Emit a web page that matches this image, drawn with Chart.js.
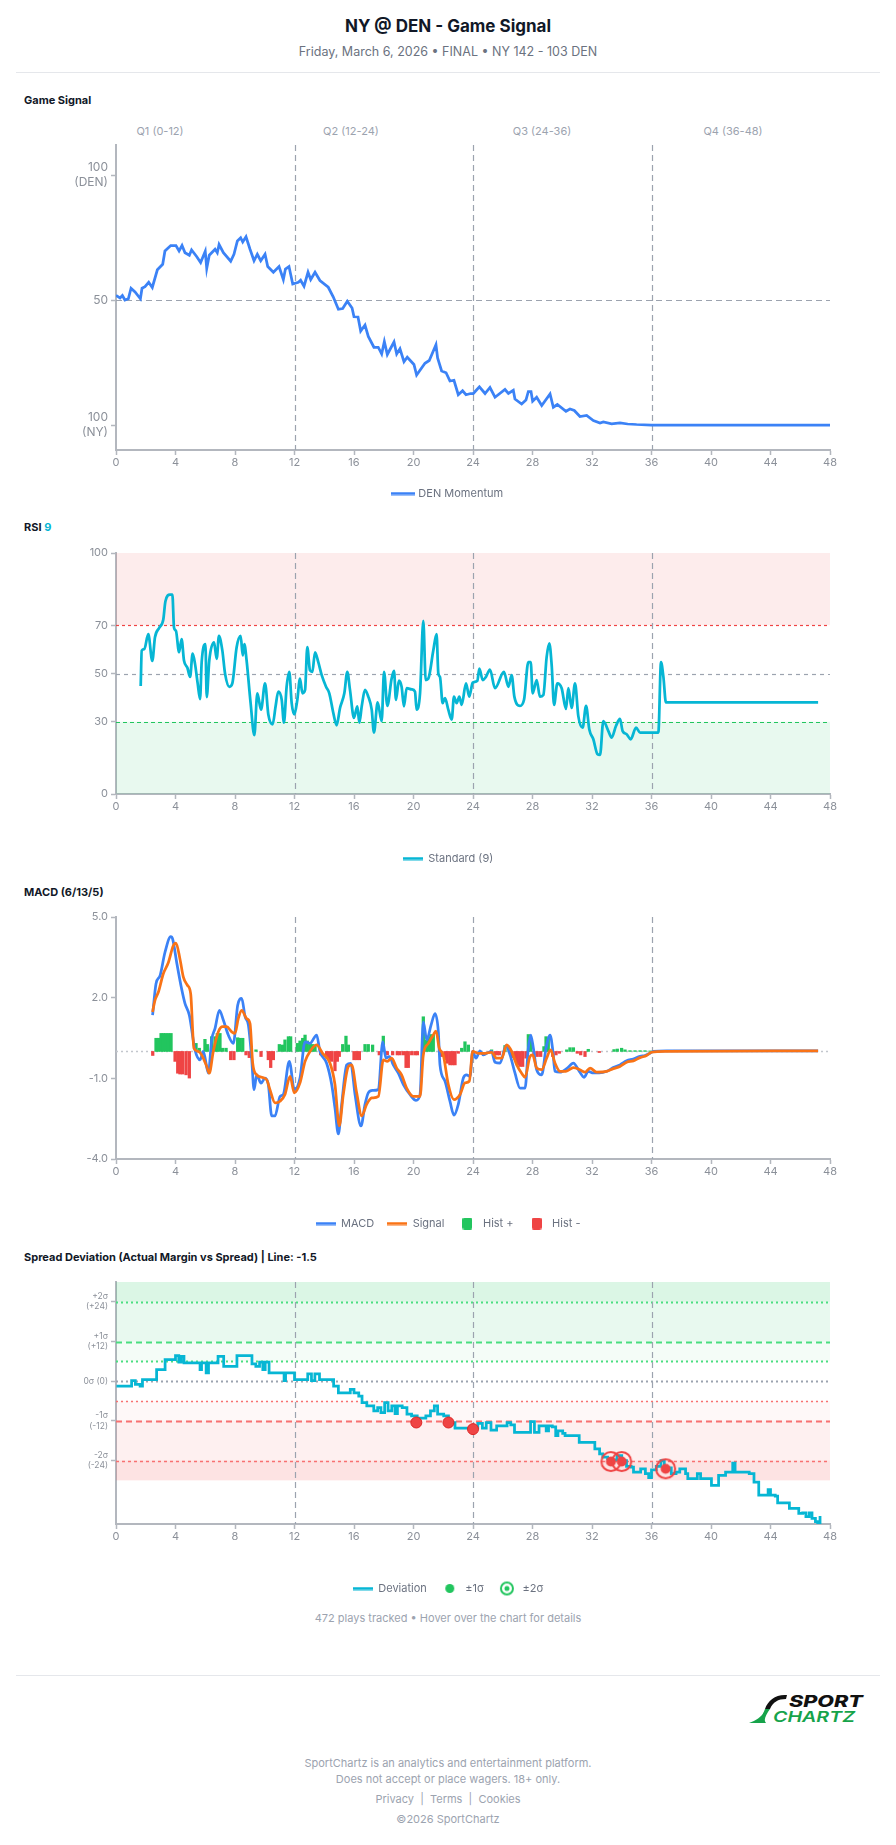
<!DOCTYPE html>
<html><head><meta charset="utf-8">
<script src="https://cdn.jsdelivr.net/npm/chart.js@4.4.1/dist/chart.umd.min.js"></script>
<style>
html,body{margin:0;padding:0;background:#fff;}
body{width:896px;height:1845px;position:relative;font-family:Inter,'Noto Sans',sans-serif;overflow:hidden;}
.abs{position:absolute;}
.title{left:0;width:896px;top:15px;text-align:center;font-size:17px;font-weight:700;color:#111827;line-height:22px;}
.sub{left:0;width:896px;top:44px;text-align:center;font-size:12.5px;color:#6b7280;line-height:16px;}
.hr{left:16px;width:864px;height:1px;background:#e5e7eb;}
.sec{left:24px;font-size:11px;font-weight:700;color:#111827;line-height:14px;white-space:nowrap;}
.q{top:124px;font-size:11px;color:#9ca3af;line-height:14px;transform:translateX(-50%);white-space:nowrap;}
.foot{left:0;width:896px;text-align:center;font-size:11px;color:#9ca3af;line-height:14px;}
.box{left:16px;width:864px;}
</style></head>
<body>
<div class="abs title">NY @ DEN - Game Signal</div>
<div class="abs sub">Friday, March 6, 2026 • FINAL • NY 142 - 103 DEN</div>
<div class="abs hr" style="top:72px"></div>

<div class="abs sec" style="top:93px">Game Signal</div>
<div class="abs q" style="left:160px">Q1 (0-12)</div>
<div class="abs q" style="left:351px">Q2 (12-24)</div>
<div class="abs q" style="left:542px">Q3 (24-36)</div>
<div class="abs q" style="left:733px">Q4 (36-48)</div>
<div class="abs box" id="b1"><canvas id="c1"></canvas></div>

<div class="abs sec" style="top:520px">RSI <span style="color:#06b6d4">9</span></div>
<div class="abs box" id="b2"><canvas id="c2"></canvas></div>

<div class="abs sec" style="top:885px">MACD (6/13/5)</div>
<div class="abs box" id="b3"><canvas id="c3"></canvas></div>

<div class="abs sec" style="top:1250px">Spread Deviation (Actual Margin vs Spread) | Line: -1.5</div>
<div class="abs box" id="b4"><canvas id="c4"></canvas></div>

<div class="abs foot" style="top:1611px">472 plays tracked • Hover over the chart for details</div>
<div class="abs hr" style="top:1675px"></div>

<svg class="abs" style="left:745px;top:1690px" width="130" height="38" viewBox="0 0 130 38">
  <path d="M42 5 C 31 4, 23 10, 20 19 L 25 19 C 28 12, 33 9, 41 9 Z" fill="#111"/>
  <path d="M20 19 C 18 26, 12 30, 4 33 L 21 33 C 18 30, 21 25, 25 19 Z" fill="#16a34a"/>
  <text x="44" y="17" font-family="Inter" font-weight="800" font-style="italic" font-size="16" fill="#111" textLength="74" lengthAdjust="spacingAndGlyphs">SPORT</text>
  <text x="28" y="32" font-family="Inter" font-weight="600" font-style="italic" font-size="15" fill="#16a34a" textLength="82" lengthAdjust="spacingAndGlyphs">CHARTZ</text>
</svg>

<div class="abs foot" style="top:1756px">SportChartz is an analytics and entertainment platform.</div>
<div class="abs foot" style="top:1772px">Does not accept or place wagers. 18+ only.</div>
<div class="abs foot" style="top:1792px">Privacy&nbsp; |&nbsp; Terms&nbsp; |&nbsp; Cookies</div>
<div class="abs foot" style="top:1812px">©2026 SportChartz</div>

<script>
// ---------------- DATA (game minute, value) ----------------
const xTickStep = 4;
const quarterLines = [12, 24, 36];

const momentum = [[0,51.8],[0.27,50.8],[0.43,51.8],[0.6,50],[0.83,50.5],[1.01,54.7],[1.28,53.2],[1.64,50.5],[1.75,54.7],[1.95,55.3],[2.2,57.1],[2.44,55],[2.78,62.1],[3.14,64.3],[3.29,69.6],[3.68,71.8],[4.03,71.8],[4.24,69.6],[4.44,71.8],[4.64,68.9],[4.93,67.9],[5.08,70],[5.42,67.4],[5.69,65],[6.0,69.5],[6.1,62.6],[6.27,67.9],[6.66,70.3],[6.81,68.9],[6.93,72.2],[7.22,68.9],[7.71,65.5],[7.93,68.3],[8.16,73.6],[8.38,74.9],[8.52,73.2],[8.74,75.3],[9.01,70.3],[9.28,65.7],[9.5,68.3],[9.73,65.7],[10.02,68.3],[10.2,63.4],[10.58,61.1],[10.96,63.4],[11.25,58.2],[11.39,62.4],[11.63,63.4],[11.88,56.4],[12.26,57.1],[12.41,57.9],[12.64,55.5],[12.91,61.1],[13.09,58.2],[13.38,61.1],[13.71,57.8],[14.27,55.1],[14.61,51.2],[14.95,46.3],[15.24,46.6],[15.55,49.5],[15.87,46.8],[16.0,43.3],[16.27,43.2],[16.45,37.6],[16.74,40],[16.96,35.4],[17.34,31.1],[17.63,31.1],[17.86,28.4],[18.04,33.4],[18.24,28.2],[18.69,33.2],[18.87,28.4],[19.09,30.5],[19.36,25.3],[19.58,27.1],[20.03,24.2],[20.21,20],[20.77,24.7],[21.06,25.8],[21.51,32.1],[21.62,26.8],[21.89,21.6],[22.19,20.9],[22.45,17.6],[22.72,17.9],[23.01,12.1],[23.3,13.7],[23.53,12.1],[23.84,12.6],[24.02,12.6],[24.43,15.3],[24.81,12.6],[25.14,15],[25.48,11.1],[26.15,14.2],[26.38,12.6],[26.71,13.9],[26.82,10.4],[27.27,8.4],[27.56,10],[27.72,13.4],[27.9,13.4],[28.01,9.5],[28.28,11.1],[28.62,7.8],[29.18,12.4],[29.4,7.1],[29.67,8.2],[30.25,5.5],[30.52,6.4],[30.81,5.8],[31.19,3.4],[31.64,3.8],[32.09,1.8],[32.54,0.8],[32.76,1.2],[33.32,0.5],[33.88,0.8],[34.4,0.4],[35.0,0.2],[36.0,0],[48.0,0]];

const rsi = [[1.66,44.8],[1.73,59.5],[1.9,60.1],[2.17,66.3],[2.44,55.2],[2.62,65],[2.91,69],[3.18,72.4],[3.32,79.9],[3.63,82.7],[3.79,82.7],[3.9,69],[4.03,67.7],[4.24,58.8],[4.41,64.3],[4.57,55.4],[4.8,52.4],[4.98,48.6],[5.15,58.2],[5.31,54.1],[5.49,45.9],[5.65,39.4],[5.76,54.7],[6.01,62.2],[6.1,40.2],[6.27,55.4],[6.59,62.9],[6.77,56.1],[6.92,65.6],[7.15,59.5],[7.33,50],[7.62,44.5],[7.82,45.9],[8.11,60.9],[8.38,65.6],[8.52,57.5],[8.63,62.2],[8.78,55.4],[9.05,37.7],[9.3,24.4],[9.5,41.8],[9.75,35],[10.02,45.9],[10.24,33],[10.53,28.9],[10.73,36.4],[10.91,42.5],[11.14,39.1],[11.29,29.6],[11.47,44.5],[11.65,50.7],[11.81,37.7],[11.99,33],[12.19,39.1],[12.37,47.9],[12.53,41.8],[12.71,43.2],[12.86,60.9],[13.04,51.3],[13.2,50.7],[13.38,58.8],[13.6,54.7],[13.83,49.3],[14.12,44.5],[14.34,41.8],[14.61,33.6],[14.83,28.5],[15.06,35.7],[15.35,41.8],[15.55,50.7],[15.73,43.2],[16.0,31.6],[16.22,36.4],[16.36,29.6],[16.52,36.4],[16.74,43.2],[16.96,40.4],[17.19,35],[17.34,25.5],[17.59,38],[17.86,30.2],[18.02,50.7],[18.24,36.6],[18.53,47.9],[18.69,51.1],[18.82,39.1],[19.02,47],[19.2,44.5],[19.36,36.4],[19.54,43.9],[19.88,43.4],[20.1,42.5],[20.21,35],[20.44,41.8],[20.66,71.8],[20.82,47.3],[21.0,47.9],[21.33,59.5],[21.55,66.3],[21.67,50],[21.78,48.6],[21.96,37.7],[22.12,39.8],[22.34,35],[22.57,30.9],[22.72,40.4],[22.9,37.7],[23.08,40.4],[23.24,37],[23.53,45.9],[23.75,40.4],[23.98,46.2],[24.29,47],[24.43,52],[24.65,47.3],[24.87,48.6],[25.14,51.6],[25.48,43.9],[26.08,50.7],[26.38,44.5],[26.6,49.3],[26.78,40.4],[27.16,36.6],[27.43,39.1],[27.72,54.7],[27.88,54.7],[28.01,41.8],[28.28,47.3],[28.5,40.4],[28.73,41.1],[28.95,56.8],[29.13,62.5],[29.29,53.4],[29.45,37],[29.67,45.9],[29.96,43.9],[30.25,35.3],[30.41,43.9],[30.63,35.7],[30.86,45.9],[31.08,32.3],[31.37,27.5],[31.6,36.6],[31.82,26.8],[32.09,22.7],[32.36,16.6],[32.54,16.2],[32.76,30.2],[33.1,26.1],[33.32,23.4],[33.61,28.2],[33.88,31.2],[34.06,26.1],[34.33,24.8],[34.6,22.7],[34.96,27.5],[35.23,25.5],[36.46,25.5],[36.64,54.7],[36.8,48.6],[36.97,38],[47.2,38]];

const macd = [[2.46,1.35],[2.69,2.52],[2.96,2.82],[3.29,3.68],[3.68,4.27],[3.81,4.18],[4.08,3.31],[4.41,2.33],[4.64,1.78],[4.93,1.35],[5.31,0.06],[5.65,-0.31],[5.87,0],[6.21,-0.81],[6.43,0.43],[6.66,0.86],[6.95,1.53],[7.22,1.16],[7.55,0.61],[7.89,0.3],[8.18,1.72],[8.45,1.97],[8.68,1.29],[8.9,0.98],[9.12,-0.25],[9.28,-1.42],[9.46,-0.87],[9.75,-1.18],[10.02,-0.99],[10.24,-1.23],[10.47,-2.4],[10.69,-2.4],[11.03,-1.67],[11.25,-1.6],[11.65,-0.37],[11.99,-1.42],[12.37,-0.99],[12.71,0.36],[13.04,0.3],[13.49,0.61],[13.71,0],[14.16,-0.44],[14.5,-1.23],[14.72,-2.1],[14.95,-3.07],[15.17,-1.97],[15.51,-0.5],[15.78,-0.44],[16.07,-1.6],[16.47,-2.77],[16.74,-1.97],[16.96,-1.54],[17.25,-1.45],[17.64,-1.42],[17.93,0.36],[18.15,-0.25],[18.38,-0.19],[18.64,-0.5],[18.98,-0.81],[19.32,-1.23],[19.76,-1.6],[20.17,-1.82],[20.44,-1.6],[20.66,1.1],[20.89,0.43],[21.18,0.98],[21.45,1.41],[21.67,0.73],[21.78,-0.5],[22.12,-1.11],[22.45,-1.85],[22.72,-2.37],[23.01,-1.97],[23.35,-0.99],[23.57,-0.87],[23.8,-0.93],[23.98,0],[24.2,-0.25],[24.47,0.02],[24.69,-0.13],[24.92,-0.07],[25.25,0],[25.48,-0.4],[25.82,-0.43],[26.22,0.22],[26.49,-0.13],[26.82,-0.8],[27.16,-1.36],[27.5,-1.36],[27.72,0.12],[27.88,0.61],[28.06,0.12],[28.28,-0.68],[28.62,-0.87],[28.91,0.12],[29.18,0.61],[29.36,0.06],[29.51,-0.74],[29.85,-0.77],[30.34,-0.62],[30.75,-0.43],[31.15,-0.74],[31.46,-0.96],[31.75,-0.74],[32.09,-0.8],[32.49,-0.8],[32.99,-0.74],[33.43,-0.6],[33.88,-0.5],[34.33,-0.35],[34.78,-0.28],[35.23,-0.18],[35.56,-0.15],[35.9,-0.07],[36.12,0],[37.02,0.02],[47.2,0.02]];

const signal = [[2.46,1.47],[2.62,1.9],[2.85,2.21],[3.18,2.89],[3.52,3.31],[3.85,3.93],[4.03,4.03],[4.3,3.44],[4.53,2.76],[4.8,2.46],[5.02,2.15],[5.24,0.12],[5.53,0],[5.76,-0.13],[6.1,-0.56],[6.27,-0.81],[6.54,0],[6.88,0.73],[7.17,0.92],[7.44,0.92],[7.78,0.73],[8.0,0.67],[8.22,1.22],[8.45,1.53],[8.78,1.22],[9.01,1.04],[9.19,-0.44],[9.46,-0.87],[9.79,-0.96],[10.13,-1.05],[10.35,-1.42],[10.69,-1.91],[11.03,-1.85],[11.36,-1.6],[11.7,-0.93],[11.99,-1.54],[12.37,-1.17],[12.71,-0.37],[13.04,0],[13.49,0.24],[13.89,-0.07],[14.39,-0.44],[14.72,-1.23],[15.01,-2.77],[15.28,-1.6],[15.62,-0.56],[15.84,-0.5],[16.18,-1.54],[16.52,-2.4],[16.85,-1.97],[17.19,-1.73],[17.64,-1.67],[17.97,-0.31],[18.24,-0.37],[18.53,-0.25],[18.87,-0.62],[19.2,-0.87],[19.54,-1.36],[19.99,-1.67],[20.44,-1.67],[20.66,-0.13],[21.0,0.3],[21.33,0.61],[21.51,0.76],[21.73,0.12],[22.0,-0.13],[22.34,-1.23],[22.72,-1.79],[23.13,-1.6],[23.46,-1.17],[23.75,-1.11],[23.98,0],[24.36,-0.07],[24.81,-0.07],[25.25,-0.03],[25.59,-0.25],[25.93,-0.25],[26.26,0.24],[26.6,0],[26.94,-0.5],[27.27,-0.81],[27.5,-0.96],[27.83,-0.19],[28.01,-0.13],[28.28,-0.62],[28.62,-0.68],[28.95,-0.25],[29.22,0.06],[29.51,-0.43],[29.85,-0.74],[30.25,-0.74],[30.75,-0.6],[31.19,-0.68],[31.53,-0.77],[31.87,-0.62],[32.31,-0.77],[32.99,-0.74],[33.43,-0.64],[33.88,-0.56],[34.33,-0.4],[34.78,-0.35],[35.23,-0.23],[35.67,-0.15],[36.01,-0.03],[37.02,0],[47.2,0.02]];

const histogram = [[2.47,-0.15],[2.69,0.49],[2.85,0.49],[3.03,0.67],[3.18,0.67],[3.34,0.67],[3.52,0.67],[3.7,0.67],[3.97,-0.37],[4.15,-0.81],[4.3,-0.84],[4.48,-0.84],[4.71,-0.87],[4.93,-0.99],[5.38,0.3],[5.6,0.12],[5.98,0.45],[6.14,0.26],[6.43,0.55],[6.66,0.55],[6.81,0.67],[6.99,0.67],[7.17,0.12],[7.4,0.12],[7.71,-0.31],[7.93,-0.31],[8.18,0.51],[8.34,0.49],[8.52,0.49],[8.74,-0.13],[8.96,-0.23],[9.41,0.06],[9.75,-0.19],[10.24,-0.31],[10.4,-0.6],[10.58,-0.31],[10.98,0.26],[11.2,0.24],[11.36,0.43],[11.59,0.55],[11.74,0.55],[12.19,0.3],[12.37,0.39],[12.55,0.49],[12.71,0.61],[12.86,0.39],[13.04,0.3],[13.22,0.26],[13.38,0.24],[13.76,-0.13],[14.16,-0.25],[14.34,-0.31],[14.5,-0.37],[14.72,-0.72],[14.88,-0.37],[15.01,-0.19],[15.24,0.26],[15.46,0.57],[15.62,0.24],[16.0,-0.31],[16.18,-0.31],[16.36,-0.31],[16.74,0.26],[16.96,0.26],[17.25,0.24],[17.7,-0.13],[17.97,0.57],[18.24,-0.13],[18.6,-0.13],[18.91,-0.13],[19.09,-0.13],[19.32,-0.13],[19.5,-0.6],[19.65,-0.6],[19.88,-0.13],[20.1,-0.13],[20.26,-0.13],[20.66,1.29],[20.84,0.43],[21.0,0.55],[21.18,0.63],[21.33,0.61],[21.89,-0.19],[22.12,-0.31],[22.27,-0.44],[22.45,-0.5],[22.63,-0.5],[22.79,-0.5],[23.01,-0.07],[23.24,0.12],[23.46,0.36],[23.69,0.24],[25.25,0.06],[25.48,-0.13],[25.64,-0.13],[25.77,-0.13],[26.15,0.22],[26.6,-0.23],[26.82,-0.31],[26.98,-0.5],[27.16,-0.56],[27.34,-0.56],[27.56,-0.25],[27.72,0.63],[27.88,0.49],[28.1,-0.13],[28.32,-0.19],[28.55,-0.19],[28.77,0.18],[28.91,0.55],[29.06,0.49],[29.36,-0.19],[29.58,-0.13],[29.8,-0.07],[30.3,0.06],[30.52,0.14],[30.75,0.14],[31.01,-0.07],[31.24,-0.13],[31.53,-0.19],[31.75,0.08],[32.49,-0.04],[33.48,0.07],[33.7,0.09],[33.99,0.12],[34.22,0.06],[34.55,0.03],[34.89,0.03],[35.23,0.03],[35.56,0.03],[35.9,0.02]];

const deviation = [[0.03,-1.5],[0.83,-1.5],[1.05,0.2],[1.3,-1],[1.62,-1.5],[1.78,0.5],[2.57,0.5],[2.73,3.5],[3.21,3.5],[3.3,6.5],[3.84,6.5],[4.0,7.7],[4.22,5.8],[4.38,7.5],[4.57,5.5],[5.43,5.5],[5.65,3.5],[5.75,5.5],[6.06,2.5],[6.22,5.5],[6.7,5.5],[6.86,7.5],[7.24,4.5],[7.97,4.5],[8.13,7.7],[8.92,7.7],[9.14,5.2],[9.4,4.5],[9.65,5.8],[9.87,3.5],[10.03,5.8],[10.29,2.5],[11.14,2.5],[11.3,0.2],[11.4,2.5],[11.78,2.5],[12.0,0.5],[12.73,0.5],[12.89,2.2],[13.14,0.2],[13.37,2.2],[13.68,0.5],[14.41,0.5],[14.63,-1.5],[14.95,-3.5],[15.75,-2.5],[16.0,-3.5],[16.32,-4.5],[16.54,-6.5],[16.86,-7.5],[17.27,-7.5],[17.33,-9],[17.59,-8],[17.81,-9.5],[18.06,-6.5],[18.29,-9],[18.54,-7.5],[18.76,-9.8],[18.92,-7.5],[19.24,-8],[19.56,-10],[19.87,-10.5],[20.25,-11.2],[20.83,-10.5],[21.14,-9],[21.4,-7.5],[21.62,-10],[22.03,-10.5],[22.35,-12.5],[22.79,-14.2],[24.0,-14.2],[24.32,-12.8],[24.63,-14.2],[24.89,-12.5],[25.21,-14.8],[25.59,-13.5],[25.9,-13.5],[26.29,-12.5],[26.54,-13.2],[26.79,-15.5],[27.65,-15.5],[27.87,-12.2],[28.13,-15.5],[28.44,-13.5],[28.92,-15],[29.08,-13.5],[29.33,-13.8],[29.56,-16.5],[29.71,-15],[30.03,-15.8],[30.19,-16.5],[30.98,-16.5],[31.14,-18.5],[31.94,-18.5],[32.19,-20.5],[32.51,-22],[32.73,-23],[33.05,-23.5],[33.37,-23.8],[33.68,-22.5],[34.0,-24],[34.32,-25.8],[34.63,-26],[34.79,-27.5],[35.27,-26.5],[35.59,-28],[35.81,-29.2],[36.0,-26.8],[36.32,-25.8],[36.63,-24],[36.86,-26.2],[37.33,-28],[37.65,-27.5],[37.9,-26.5],[38.29,-28],[38.44,-29.5],[38.92,-29.5],[39.08,-28],[39.3,-29.5],[39.87,-29.5],[40.03,-31.5],[40.35,-31.5],[40.51,-28.5],[40.98,-27.5],[41.3,-27.5],[41.46,-24.8],[41.62,-27.5],[42.57,-28],[42.89,-30.5],[43.21,-34.5],[43.68,-34.5],[43.84,-32.8],[44.0,-34.5],[44.32,-34.8],[44.48,-36.8],[45.11,-36.8],[45.27,-38.5],[45.75,-38.5],[45.9,-40],[46.16,-39.8],[46.38,-41],[46.6,-39.8],[46.79,-41.5],[47.02,-42.5],[47.17,-43.2],[47.33,-40.8]];

const sigma1Hits = [[20.19,-12.5],[22.35,-12.5],[24.0,-14.5]];
const sigma2Hits = [[33.27,-24.3],[34.0,-24.3],[36.95,-26.5]];

const momTicks = [0, 50, 100];
const rsiTicks = [0, 30, 50, 70, 100];
const macdTicks = [-4, -1, 2, 5];
const devTicks = [-24, -12, 0, 12, 24];
const devTickLabels = {'24':['+2σ','(+24)'], '12':['+1σ','(+12)'], '0':'0σ (0)', '-12':['-1σ','(-12)'], '-24':['-2σ','(-24)']};

// ---------------- STYLE ----------------
const TICK = '#8b9099', AXIS = '#b3b7be', QLINE = '#9ca3af';
const BLUE = '#3b82f6', CYAN = '#06b6d4', ORANGE = '#f97316', GREEN = '#22c55e', RED = '#ef4444';
Chart.defaults.font.family = "Inter, 'Noto Sans', sans-serif";
Chart.defaults.animation = false;

const pts = arr => arr.map(p => ({x: p[0], y: p[1]}));

function mk(w, h, draw) { const c = document.createElement('canvas'); c.width = w; c.height = h; draw(c.getContext('2d')); return c; }
const lineIcon = (color, w) => mk(w, 4, g => { g.fillStyle = color; g.fillRect(0, 0.5, w, 3); });
const rectIcon = color => mk(10, 12, g => { g.fillStyle = color; g.beginPath(); g.roundRect(0, 0, 10, 12, 2); g.fill(); });
const dotIcon = (color, r) => mk(2*r+2, 2*r+2, g => { g.fillStyle = color; g.beginPath(); g.arc(r+1, r+1, r, 0, Math.PI*2); g.fill(); });
const ringIcon = (color, r, rin, lw) => mk(2*r+4, 2*r+4, g => {
  const c = r + 2; g.strokeStyle = color; g.lineWidth = lw; g.beginPath(); g.arc(c, c, r, 0, Math.PI*2); g.stroke();
  g.fillStyle = color; g.beginPath(); g.arc(c, c, rin, 0, Math.PI*2); g.fill();
});

const refPlugin = {
  id: 'refs',
  beforeDatasetsDraw(chart, args, o) {
    const {ctx, chartArea: a, scales: {x, y}} = chart;
    ctx.save();
    ctx.beginPath(); ctx.rect(a.left, a.top, a.right - a.left, a.bottom - a.top); ctx.clip();
    (o.bands || []).forEach(b => {
      const y1 = y.getPixelForValue(b.from), y2 = y.getPixelForValue(b.to);
      ctx.fillStyle = b.color;
      ctx.fillRect(a.left, Math.min(y1, y2), a.right - a.left, Math.abs(y2 - y1));
    });
    ctx.restore();
    ctx.save();
    (o.hlines || []).forEach(l => {
      const py = Math.round(y.getPixelForValue(l.value)) + 0.5;
      ctx.strokeStyle = l.color; ctx.lineWidth = l.width || 1; ctx.setLineDash(l.dash || []);
      ctx.beginPath(); ctx.moveTo(a.left, py); ctx.lineTo(a.right, py); ctx.stroke();
    });
    (o.vlines || []).forEach(v => {
      const px = Math.round(x.getPixelForValue(v)) + 0.5;
      ctx.strokeStyle = QLINE; ctx.lineWidth = 1.2; ctx.setLineDash([6, 4]);
      ctx.beginPath(); ctx.moveTo(px, a.top); ctx.lineTo(px, a.bottom); ctx.stroke();
    });
    ctx.restore();
  }
};

function xAxis(Hx) {
  return {
    type: 'linear', min: 0, max: 48, offset: false,
    ticks: {stepSize: xTickStep, color: TICK, font: {size: 11}, padding: 1, maxRotation: 0, autoSkip: false},
    grid: {display: true, offset: false, drawOnChartArea: false, drawTicks: true, tickLength: 5, tickColor: AXIS, tickWidth: 1.5},
    border: {display: true, color: AXIS, width: 2},
    afterFit(s) { s.height = Hx; s.paddingLeft = 0; s.paddingRight = 0; }
  };
}
function yAxis(min, max, vals, fmt, size) {
  return {
    type: 'linear', min, max,
    afterBuildTicks(s) { s.ticks = vals.map(v => ({value: v})); },
    ticks: {callback: fmt, color: TICK, font: {size: size}, padding: 3, autoSkip: false},
    grid: {display: true, drawOnChartArea: false, drawTicks: true, tickLength: 5, tickColor: AXIS, tickWidth: 1.5},
    border: {display: true, color: AXIS, width: 2},
    afterFit(s) { s.width = 50; s.paddingTop = 0; s.paddingBottom = 0; }
  };
}
function legend(items) {
  return {
    display: true, position: 'bottom', align: 'center',
    labels: {
      usePointStyle: true, pointStyleWidth: 20, boxHeight: 11, padding: 13,
      color: '#6b7280', font: {size: 11},
      generateLabels: () => items.map(it => ({
        text: it.text, pointStyle: it.icon, fillStyle: 'rgba(0,0,0,0)', strokeStyle: 'rgba(0,0,0,0)',
        lineWidth: 0, hidden: false, datasetIndex: it.ds, fontColor: '#6b7280'
      }))
    }
  };
}
function place(boxId, ct, cb, ly) {
  const PT = 15, PB = 4, LH = 31;
  const Hx = Math.round(ly - 15.5 - cb);
  const top = ct - PT;
  const h = PT + (cb - ct) + Hx + LH + PB;
  const b = document.getElementById(boxId);
  b.style.top = top + 'px'; b.style.height = h + 'px';
  return {Hx, padding: {top: PT, right: 50, bottom: PB, left: 50}};
}
function base(L, xs, ys, leg, refs) {
  return {
    responsive: true, maintainAspectRatio: false, devicePixelRatio: 1,
    layout: {padding: L.padding},
    scales: {x: xs, y: ys},
    plugins: {legend: leg, tooltip: {enabled: false}, refs: refs},
    events: []
  };
}

// ---------------- Chart 1: Game Signal ----------------
const L1 = place('b1', 145, 453, 493);
new Chart(document.getElementById('c1'), {
  type: 'line',
  data: {datasets: [{label: 'DEN Momentum', data: pts(momentum), borderColor: BLUE, borderWidth: 2.75, pointRadius: 0, tension: 0, fill: false}]},
  options: base(L1, xAxis(L1.Hx),
    yAxis(-10, 112, momTicks, v => v === 100 ? ['100', '(DEN)'] : v === 0 ? ['100', '(NY)'] : String(v), 12),
    legend([{text: 'DEN Momentum', icon: lineIcon(BLUE, 24), ds: 0}]),
    {hlines: [{value: 50, color: QLINE, dash: [6, 4], width: 1.2}], vlines: quarterLines}),
  plugins: [refPlugin]
});

// ---------------- Chart 2: RSI ----------------
const L2 = place('b2', 553, 797, 858);
new Chart(document.getElementById('c2'), {
  type: 'line',
  data: {datasets: [{label: 'Standard (9)', data: pts(rsi), borderColor: CYAN, borderWidth: 2.75, pointRadius: 0, cubicInterpolationMode: 'monotone', fill: false}]},
  options: base(L2, xAxis(L2.Hx),
    yAxis(0, 100, rsiTicks, v => String(v), 11),
    legend([{text: 'Standard (9)', icon: lineIcon(CYAN, 20), ds: 0}]),
    {bands: [{from: 70, to: 100, color: 'rgba(239,68,68,0.10)'}, {from: 0, to: 30, color: 'rgba(34,197,94,0.10)'}],
     hlines: [{value: 70, color: RED, dash: [3, 3], width: 1.2}, {value: 50, color: QLINE, dash: [4, 4], width: 1.2}, {value: 30, color: GREEN, dash: [4, 3], width: 1.2}],
     vlines: quarterLines}),
  plugins: [refPlugin]
});

// ---------------- Chart 3: MACD ----------------
const L3 = place('b3', 917, 1162, 1223);
const histPos = histogram.filter(p => p[1] >= 0), histNeg = histogram.filter(p => p[1] < 0);
new Chart(document.getElementById('c3'), {
  type: 'line',
  data: {datasets: [
    {label: 'MACD', data: pts(macd), borderColor: BLUE, borderWidth: 2.75, pointRadius: 0, cubicInterpolationMode: 'monotone', order: 1},
    {label: 'Signal', data: pts(signal), borderColor: ORANGE, borderWidth: 2.75, pointRadius: 0, cubicInterpolationMode: 'monotone', order: 0},
    {type: 'bar', label: 'Hist +', data: pts(histPos), backgroundColor: GREEN, barThickness: 2.6, grouped: false, order: 2},
    {type: 'bar', label: 'Hist -', data: pts(histNeg), backgroundColor: RED, barThickness: 2.6, grouped: false, order: 3}
  ]},
  options: base(L3, xAxis(L3.Hx),
    yAxis(-4, 5, macdTicks, v => v.toFixed(1), 11),
    legend([{text: 'MACD', icon: lineIcon(BLUE, 20), ds: 0}, {text: 'Signal', icon: lineIcon(ORANGE, 20), ds: 1},
            {text: 'Hist +', icon: rectIcon(GREEN), ds: 2}, {text: 'Hist -', icon: rectIcon(RED), ds: 3}]),
    {hlines: [{value: 0, color: '#c3c7cd', dash: [2, 3], width: 1.5}], vlines: quarterLines}),
  plugins: [refPlugin]
});

// ---------------- Chart 4: Spread Deviation ----------------
const L4 = place('b4', 1282, 1527, 1588);
const ringMarker = ringIcon(RED, 9.5, 5, 2);
new Chart(document.getElementById('c4'), {
  type: 'line',
  data: {datasets: [
    {label: 'Deviation', data: pts(deviation), borderColor: CYAN, borderWidth: 2.75, pointRadius: 0, stepped: true, order: 2},
    {label: '±1σ', data: pts(sigma1Hits), showLine: false, pointRadius: 5.5, pointStyle: 'circle', backgroundColor: RED, borderColor: '#dc2626', borderWidth: 1, order: 1},
    {label: '±2σ', data: pts(sigma2Hits), showLine: false, pointRadius: 10, pointStyle: ringMarker, backgroundColor: RED, borderColor: RED, order: 0}
  ]},
  options: base(L4, xAxis(L4.Hx),
    yAxis(-43.2, 30, devTicks, v => devTickLabels[String(v)], 8.5),
    legend([{text: 'Deviation', icon: lineIcon(CYAN, 20), ds: 0}, {text: '±1σ', icon: dotIcon(GREEN, 4.5), ds: 1},
            {text: '±2σ', icon: ringIcon(GREEN, 6, 2.5, 2), ds: 2}]),
    {bands: [
       {from: 24, to: 30, color: 'rgba(34,197,94,0.16)'}, {from: 12, to: 24, color: 'rgba(34,197,94,0.10)'}, {from: 6, to: 12, color: 'rgba(34,197,94,0.05)'},
       {from: -6, to: -12, color: 'rgba(239,68,68,0.04)'}, {from: -12, to: -24, color: 'rgba(239,68,68,0.08)'}, {from: -24, to: -30, color: 'rgba(239,68,68,0.15)'}],
     hlines: [
       {value: 24, color: '#4ade80', dash: [2, 3], width: 2}, {value: 12, color: '#4ade80', dash: [6, 4], width: 2}, {value: 6, color: '#4ade80', dash: [2, 3], width: 2},
       {value: 0, color: '#9ca3af', dash: [2, 3], width: 2},
       {value: -6, color: '#f87171', dash: [2, 3], width: 1.5}, {value: -12, color: '#f87171', dash: [6, 4], width: 2}, {value: -24, color: '#f87171', dash: [3, 3], width: 1.5}],
     vlines: quarterLines}),
  plugins: [refPlugin]
});
</script>
</body></html>
